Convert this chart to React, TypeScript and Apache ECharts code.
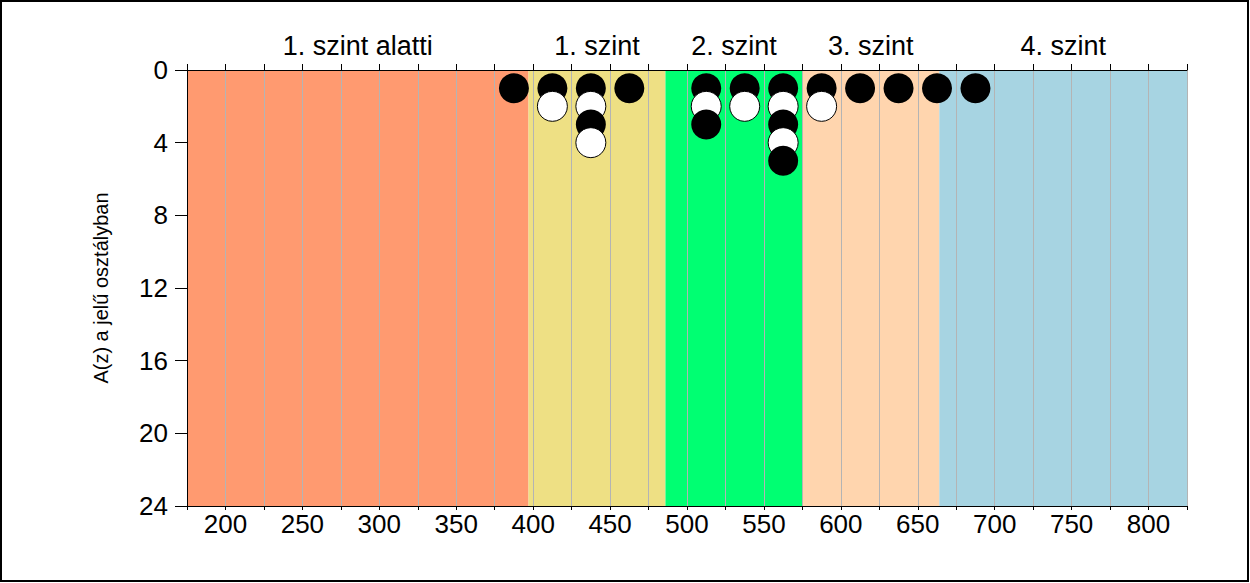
import React, { useEffect, useRef } from "react";
import * as echarts from "echarts";

// Achievement level bands (score ranges)
const bandNames = ["1. szint alatti", "1. szint", "2. szint", "3. szint", "4. szint"];
const bandStarts = [175, 397, 486, 575, 664];
const bandEnds = [397, 486, 575, 664, 825];
const bandColors = ["#FF9A70", "#EEE084", "#00FF72", "#FFD5AE", "#A7D4E2"];

// Students: x = score bin centre, y = count position in column, fill = black / white
const dotX = [
  387.5, 412.5, 437.5, 462.5, 512.5, 537.5, 562.5, 587.5, 612.5, 637.5, 662.5, 687.5,
  412.5, 437.5, 512.5, 537.5, 562.5, 587.5,
  437.5, 512.5, 562.5,
  437.5, 562.5,
  562.5,
];
const dotY = [
  1, 1, 1, 1, 1, 1, 1, 1, 1, 1, 1, 1,
  2, 2, 2, 2, 2, 2,
  3, 3, 3,
  4, 4,
  5,
];
const dotFill = [
  "black", "black", "black", "black", "black", "black", "black", "black", "black", "black", "black", "black",
  "white", "white", "white", "white", "white", "white",
  "black", "black", "black",
  "white", "white",
  "black",
];

const xMin = 175;
const xMax = 825;
const xInterval = 25;
const yMin = 0;
const yMax = 24;
const yInterval = 4;
const yTitle = "A(z) a jelű osztályban";

export default function App() {
  const ref = useRef<HTMLDivElement>(null);

  useEffect(() => {
    document.body.style.margin = "0";
    if (!ref.current) return;
    const chart = echarts.init(ref.current, undefined, { renderer: "svg" });

    const bandData = bandNames.map((n, i) => [bandStarts[i], bandEnds[i], i]);
    const dots = dotX.map((x, i) => ({
      value: [x, dotY[i]],
      itemStyle:
        dotFill[i] === "black"
          ? { color: "#000000", borderWidth: 0, opacity: 1 }
          : { color: "#FFFFFF", borderColor: "#000000", borderWidth: 1, opacity: 1 },
    }));

    const font = "Liberation Sans, Arial, sans-serif";

    chart.setOption({
      animation: false,
      graphic: [
        {
          type: "rect",
          shape: { x: 1, y: 1, width: 1247, height: 580 },
          style: { fill: "none", stroke: "#000", lineWidth: 2 },
          z: 100,
        },
      ],
      grid: { left: 187, right: 63, top: 70, bottom: 77, containLabel: false },
      xAxis: [
        {
          type: "value",
          position: "bottom",
          min: xMin,
          max: xMax,
          interval: xInterval,
          z: 3,
          axisLine: { show: true, onZero: false, lineStyle: { color: "#000", width: 1 } },
          axisTick: { show: true, length: 4, lineStyle: { color: "#000" } },
          axisLabel: {
            margin: 5,
            fontSize: 26,
            color: "#000",
            fontFamily: font,
            formatter: (v: number) => (v % 50 === 0 ? String(v) : ""),
          },
          splitLine: { show: true, lineStyle: { color: "#B4B4B4", width: 1 } },
        },
        {
          type: "value",
          position: "top",
          min: xMin,
          max: xMax,
          interval: xInterval,
          z: 3,
          axisLine: { show: true, onZero: false, lineStyle: { color: "#000", width: 1 } },
          axisTick: { show: true, length: 6, lineStyle: { color: "#000" } },
          axisLabel: { show: false },
          splitLine: { show: false },
        },
      ],
      yAxis: {
        type: "value",
        inverse: true,
        min: yMin,
        max: yMax,
        interval: yInterval,
        z: 3,
        name: yTitle,
        nameLocation: "middle",
        nameGap: 76,
        nameTextStyle: { fontSize: 20, color: "#000", fontFamily: font },
        axisLine: { show: true, onZero: false, lineStyle: { color: "#000", width: 1 } },
        axisTick: { show: true, length: 12, lineStyle: { color: "#000" } },
        axisLabel: { margin: 19, fontSize: 26, color: "#000", fontFamily: font },
        splitLine: { show: false },
      },
      series: [
        {
          type: "custom",
          z: 1,
          xAxisIndex: 0,
          yAxisIndex: 0,
          clip: false,
          data: bandData,
          renderItem: (params: any, api: any) => {
            const x0 = api.value(0);
            const x1 = api.value(1);
            const idx = api.value(2);
            const p0 = api.coord([x0, yMin]);
            const p1 = api.coord([x1, yMax]);
            return {
              type: "group",
              children: [
                {
                  type: "rect",
                  shape: { x: p0[0], y: p0[1], width: p1[0] - p0[0], height: p1[1] - p0[1] },
                  style: { fill: bandColors[idx] },
                },
                {
                  type: "text",
                  x: (p0[0] + p1[0]) / 2,
                  y: p0[1] - 24,
                  style: {
                    text: bandNames[idx],
                    fontSize: 27,
                    fontFamily: font,
                    fill: "#000",
                    align: "center",
                    verticalAlign: "middle",
                  },
                },
              ],
            };
          },
        },
        {
          type: "scatter",
          z: 5,
          xAxisIndex: 0,
          yAxisIndex: 0,
          symbol: "circle",
          symbolSize: 30,
          itemStyle: { opacity: 1 },
          data: dots,
        },
      ],
    });

    return () => chart.dispose();
  }, []);

  return <div ref={ref} style={{ width: 1250, height: 583 }} />;
}
